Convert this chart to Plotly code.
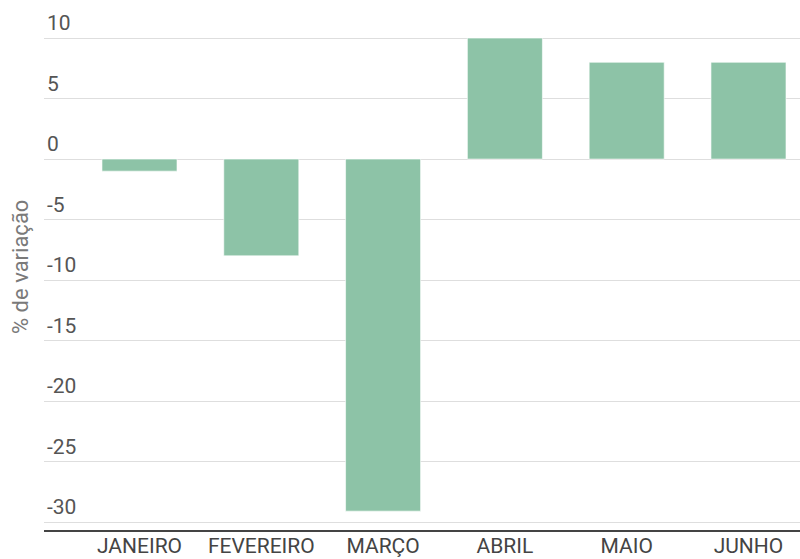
import plotly.graph_objects as go

months = ["JANEIRO", "FEVEREIRO", "MARÇO", "ABRIL", "MAIO", "JUNHO"]
values = [-1.0, -8.0, -29.1, 10.0, 8.0, 8.0]
y_ticks = [10, 5, 0, -5, -10, -15, -20, -25, -30]
y_title = "% de variação"

fig = go.Figure(go.Bar(
    x=months, y=values,
    marker=dict(color="#8dc3a7", line=dict(color="rgba(255,255,255,0.6)", width=1)),
    hoverinfo="skip",
))

fig.update_layout(
    width=800, height=559,
    margin=dict(l=44, r=0, t=10, b=29),
    paper_bgcolor="white", plot_bgcolor="white",
    font=dict(family="Roboto", size=21, color="#555"),
    bargap=0.384,
    showlegend=False,
    xaxis=dict(
        range=[-0.784, 5.423],
        showgrid=False, showline=True, linecolor="#444", linewidth=2,
        ticks="", ticklabelstandoff=-4, automargin=False,
        tickfont=dict(size=21, color="#444"),
        fixedrange=True,
    ),
    yaxis=dict(
        range=[-30.66, 12.32],
        tickvals=y_ticks, ticktext=[str(v) for v in y_ticks],
        showgrid=True, gridcolor="#dedede", gridwidth=1,
        zeroline=True, zerolinecolor="#dedede", zerolinewidth=1,
        showline=False, ticks="", automargin=False,
        ticklabelposition="inside", ticklabelshift=-15, ticklabelstandoff=0,
        tickfont=dict(size=21, color="#555"),
        fixedrange=True,
    ),
    annotations=[dict(
        text=y_title, textangle=-90, xref="paper", yref="paper",
        x=-0.031, y=0.505, xanchor="center", yanchor="middle",
        showarrow=False, font=dict(size=22, color="#7a7a7a"),
    )],
)

fig.write_html("out.html")
